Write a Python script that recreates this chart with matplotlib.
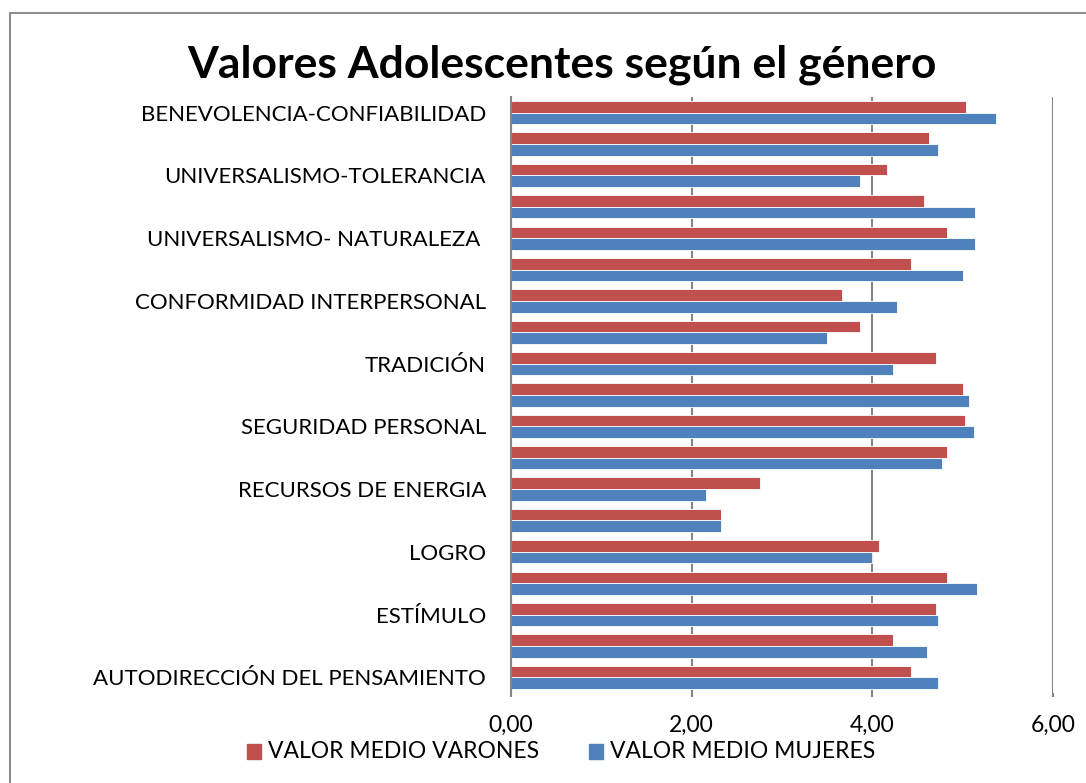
import matplotlib
matplotlib.use("Agg")
import matplotlib.pyplot as plt
import numpy as np
from matplotlib.patches import Rectangle

categories = [
    "BENEVOLENCIA-CONFIABILIDAD",
    "BENEVOLENCIA-CUIDADO",
    "UNIVERSALISMO-TOLERANCIA",
    "UNIVERSALISMO-COMPROMISO",
    "UNIVERSALISMO- NATURALEZA ",
    "HUMILDAD",
    "CONFORMIDAD INTERPERSONAL",
    "CONFORMIDAD CON LAS REGLAS",
    "TRADICIÓN",
    "SEGURIDAD SOCIAL",
    "SEGURIDAD PERSONAL",
    "IMAGEN PÚBLICA",
    "RECURSOS DE ENERGIA",
    "PODER DE DOMINANCIA",
    "LOGRO",
    "HEDONISMO",
    "ESTÍMULO",
    "AUTODIRECCIÓN DE LA ACCIÓN",
    "AUTODIRECCIÓN DEL PENSAMIENTO",
]
shown_labels = [c if i % 2 == 0 else "" for i, c in enumerate(categories)]

varones = [5.04, 4.63, 4.16, 4.57, 4.83, 4.43, 3.66, 3.86, 4.70, 5.00,
           5.03, 4.83, 2.76, 2.33, 4.07, 4.83, 4.70, 4.23, 4.43]
mujeres = [5.37, 4.73, 3.86, 5.14, 5.14, 5.00, 4.27, 3.50, 4.23, 5.07,
           5.13, 4.77, 2.16, 2.33, 4.00, 5.16, 4.73, 4.60, 4.73]

x_ticks = [0, 2, 4, 6]
x_tick_labels = ["0,00", "2,00", "4,00", "6,00"]

title = "Valores Adolescentes según el género"
legend_labels = ["VALOR MEDIO VARONES", "VALOR MEDIO MUJERES"]

RED = "#C0504D"
BLUE = "#4F81BD"
GRID = "#868686"
FONT = "Lato"

fig = plt.figure(figsize=(10.86, 7.83), dpi=100)
fig.patch.set_facecolor("white")

# outer chart border
fig.add_artist(Rectangle((10/1086, -0.05), 1.1, 1 - 13/783 + 0.05,
                         transform=fig.transFigure, fill=False,
                         edgecolor="#8c8c8c", linewidth=1.5))

ax = fig.add_axes([511/1086, 1 - 693/783, (1053-511)/1086, (693-97)/783])
n = len(categories)
y = np.arange(n)[::-1]
h = 0.37
ax.barh(y + h/2, varones, height=h, color=RED, edgecolor="white", linewidth=0.6, zorder=3)
ax.barh(y - h/2, mujeres, height=h, color=BLUE, edgecolor="white", linewidth=0.6, zorder=3)

ax.set_xlim(0, 6)
ax.set_ylim(-0.5, n - 0.5)
ax.set_xticks(x_ticks)
ax.set_xticklabels(x_tick_labels, fontsize=16.5, family=FONT)
ax.set_yticks(y)
ax.set_yticklabels(shown_labels, fontsize=16, family=FONT)
ax.tick_params(axis="y", length=0, pad=18)
ax.tick_params(axis="x", length=3, width=1.5, color=GRID, pad=13)
ax.grid(axis="x", color=GRID, linewidth=1.5, zorder=0)
for s in ["top", "right", "bottom"]:
    ax.spines[s].set_visible(False)
ax.spines["left"].set_color(GRID)
ax.spines["left"].set_linewidth(1.5)
ax.spines["left"].set_zorder(4)

fig.text(562/1086, 1 - 65/783, title, ha="center", va="center",
         fontsize=32, fontweight="bold", family=FONT)

# legend
fig.add_artist(Rectangle((247/1086, 1 - 759/783), 14/1086, 15/783,
                         transform=fig.transFigure, color=RED))
fig.text(268/1086, 1 - 751/783, legend_labels[0], ha="left", va="center",
         fontsize=16.5, family=FONT)
fig.add_artist(Rectangle((589/1086, 1 - 759/783), 14/1086, 15/783,
                         transform=fig.transFigure, color=BLUE))
fig.text(610/1086, 1 - 751/783, legend_labels[1], ha="left", va="center",
         fontsize=16.5, family=FONT)

fig.savefig("out.png", dpi=100, facecolor="white")
